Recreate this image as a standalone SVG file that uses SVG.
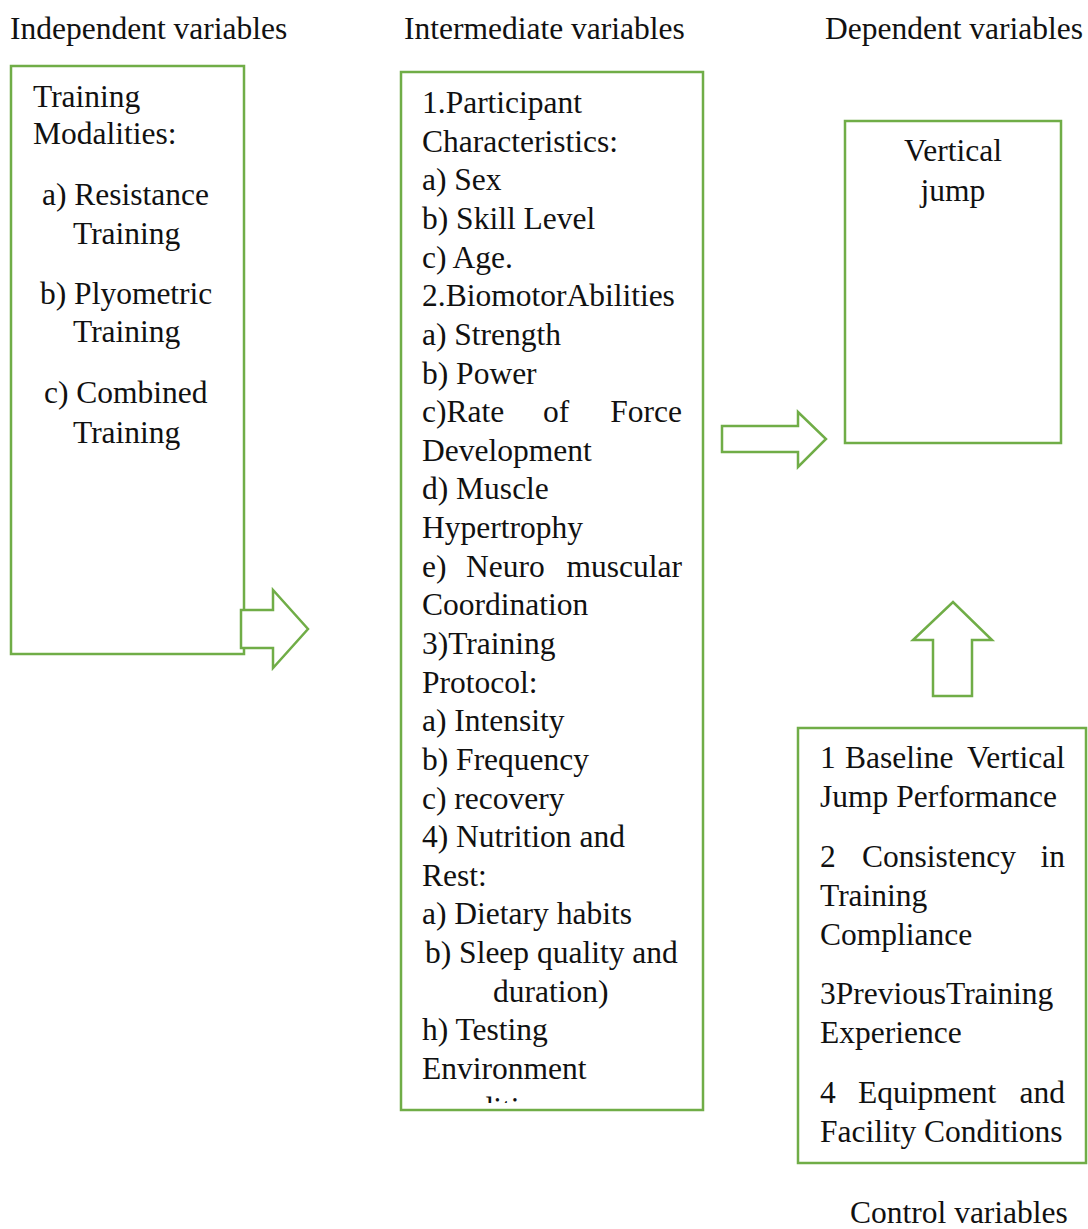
<svg xmlns="http://www.w3.org/2000/svg" width="1088" height="1229" viewBox="0 0 1088 1229">
<style>
text{font-family:"Liberation Serif","Times New Roman",serif;font-size:31.5px;fill:#111}
.box{fill:#fff;stroke:#70AD47;stroke-width:2.5}
.arrow{fill:#fff;stroke:#70AD47;stroke-width:2.5;stroke-linejoin:miter}
</style>
<defs>
<clipPath id="midclip"><rect x="402" y="73" width="300" height="1030"/></clipPath>
</defs>
<rect width="1088" height="1229" fill="#fff"/>
<g id="headers">
<text x="10" y="39">Independent variables</text>
<text x="404" y="39">Intermediate variables</text>
<text x="825" y="39">Dependent variables</text>
<text x="850" y="1223">Control variables</text>
</g>
<g id="independent">
<rect class="box" x="11" y="66" width="233" height="588"/>
<text x="33" y="107">Training</text>
<text x="33" y="144">Modalities:</text>
<text x="42" y="205">a) Resistance</text>
<text x="73" y="244">Training</text>
<text x="40" y="304">b) Plyometric</text>
<text x="73" y="342">Training</text>
<text x="44" y="403">c) Combined</text>
<text x="73" y="443">Training</text>
</g>
<g id="intermediate">
<rect class="box" x="401" y="72" width="302" height="1038"/>
<g clip-path="url(#midclip)">
<text x="422" y="113">1.Participant</text>
<text x="422" y="151.6">Characteristics:</text>
<text x="422" y="190.3">a) Sex</text>
<text x="422" y="228.9">b) Skill Level</text>
<text x="422" y="267.6">c) Age.</text>
<text x="422" y="306.2">2.BiomotorAbilities</text>
<text x="422" y="344.8">a) Strength</text>
<text x="422" y="383.5">b) Power</text>
<text x="422" y="422.1">c)Rate</text><text x="543" y="422.1">of</text><text x="682" y="422.1" text-anchor="end">Force</text>
<text x="422" y="460.8">Development</text>
<text x="422" y="499.4">d) Muscle</text>
<text x="422" y="538">Hypertrophy</text>
<text x="422" y="576.7">e)</text><text x="466" y="576.7">Neuro</text><text x="682" y="576.7" text-anchor="end">muscular</text>
<text x="422" y="615.3">Coordination</text>
<text x="422" y="654">3)Training</text>
<text x="422" y="692.6">Protocol:</text>
<text x="422" y="731.2">a) Intensity</text>
<text x="422" y="769.9">b) Frequency</text>
<text x="422" y="808.5">c) recovery</text>
<text x="422" y="847.2">4) Nutrition and</text>
<text x="422" y="885.8">Rest:</text>
<text x="422" y="924.4">a) Dietary habits</text>
<text x="425" y="963.1">b) Sleep quality and</text>
<text x="493" y="1001.7">duration)</text>
<text x="422" y="1040.4">h) Testing</text>
<text x="422" y="1079">Environment</text>
<text x="432" y="1118.6">conditions</text>
</g>
</g>
<g id="dependent">
<rect class="box" x="845" y="121" width="216" height="322"/>
<text x="953" y="161" text-anchor="middle">Vertical</text>
<text x="953" y="201" text-anchor="middle">jump</text>
</g>
<g id="control">
<rect class="box" x="798" y="728" width="288" height="435"/>
<text x="820" y="768">1</text><text x="845" y="768">Baseline</text><text x="1065" y="768" text-anchor="end">Vertical</text>
<text x="820" y="807">Jump Performance</text>
<text x="820" y="867">2</text><text x="862" y="867">Consistency</text><text x="1065" y="867" text-anchor="end">in</text>
<text x="820" y="906">Training</text>
<text x="820" y="945">Compliance</text>
<text x="820" y="1004">3PreviousTraining</text>
<text x="820" y="1043">Experience</text>
<text x="820" y="1103">4</text><text x="858" y="1103">Equipment</text><text x="1065" y="1103" text-anchor="end">and</text>
<text x="820" y="1142">Facility Conditions</text>
</g>
<g id="connectors">
<polygon class="arrow" points="241,610 273,610 273,590 308,629 273,668 273,648 241,648"/>
<polygon class="arrow" points="722,426 798,426 798,412 826,439 798,467 798,452 722,452"/>
<polygon class="arrow" points="933,696 933,640 913,640 953,602 992,640 972,640 972,696"/>
</g>
</svg>
